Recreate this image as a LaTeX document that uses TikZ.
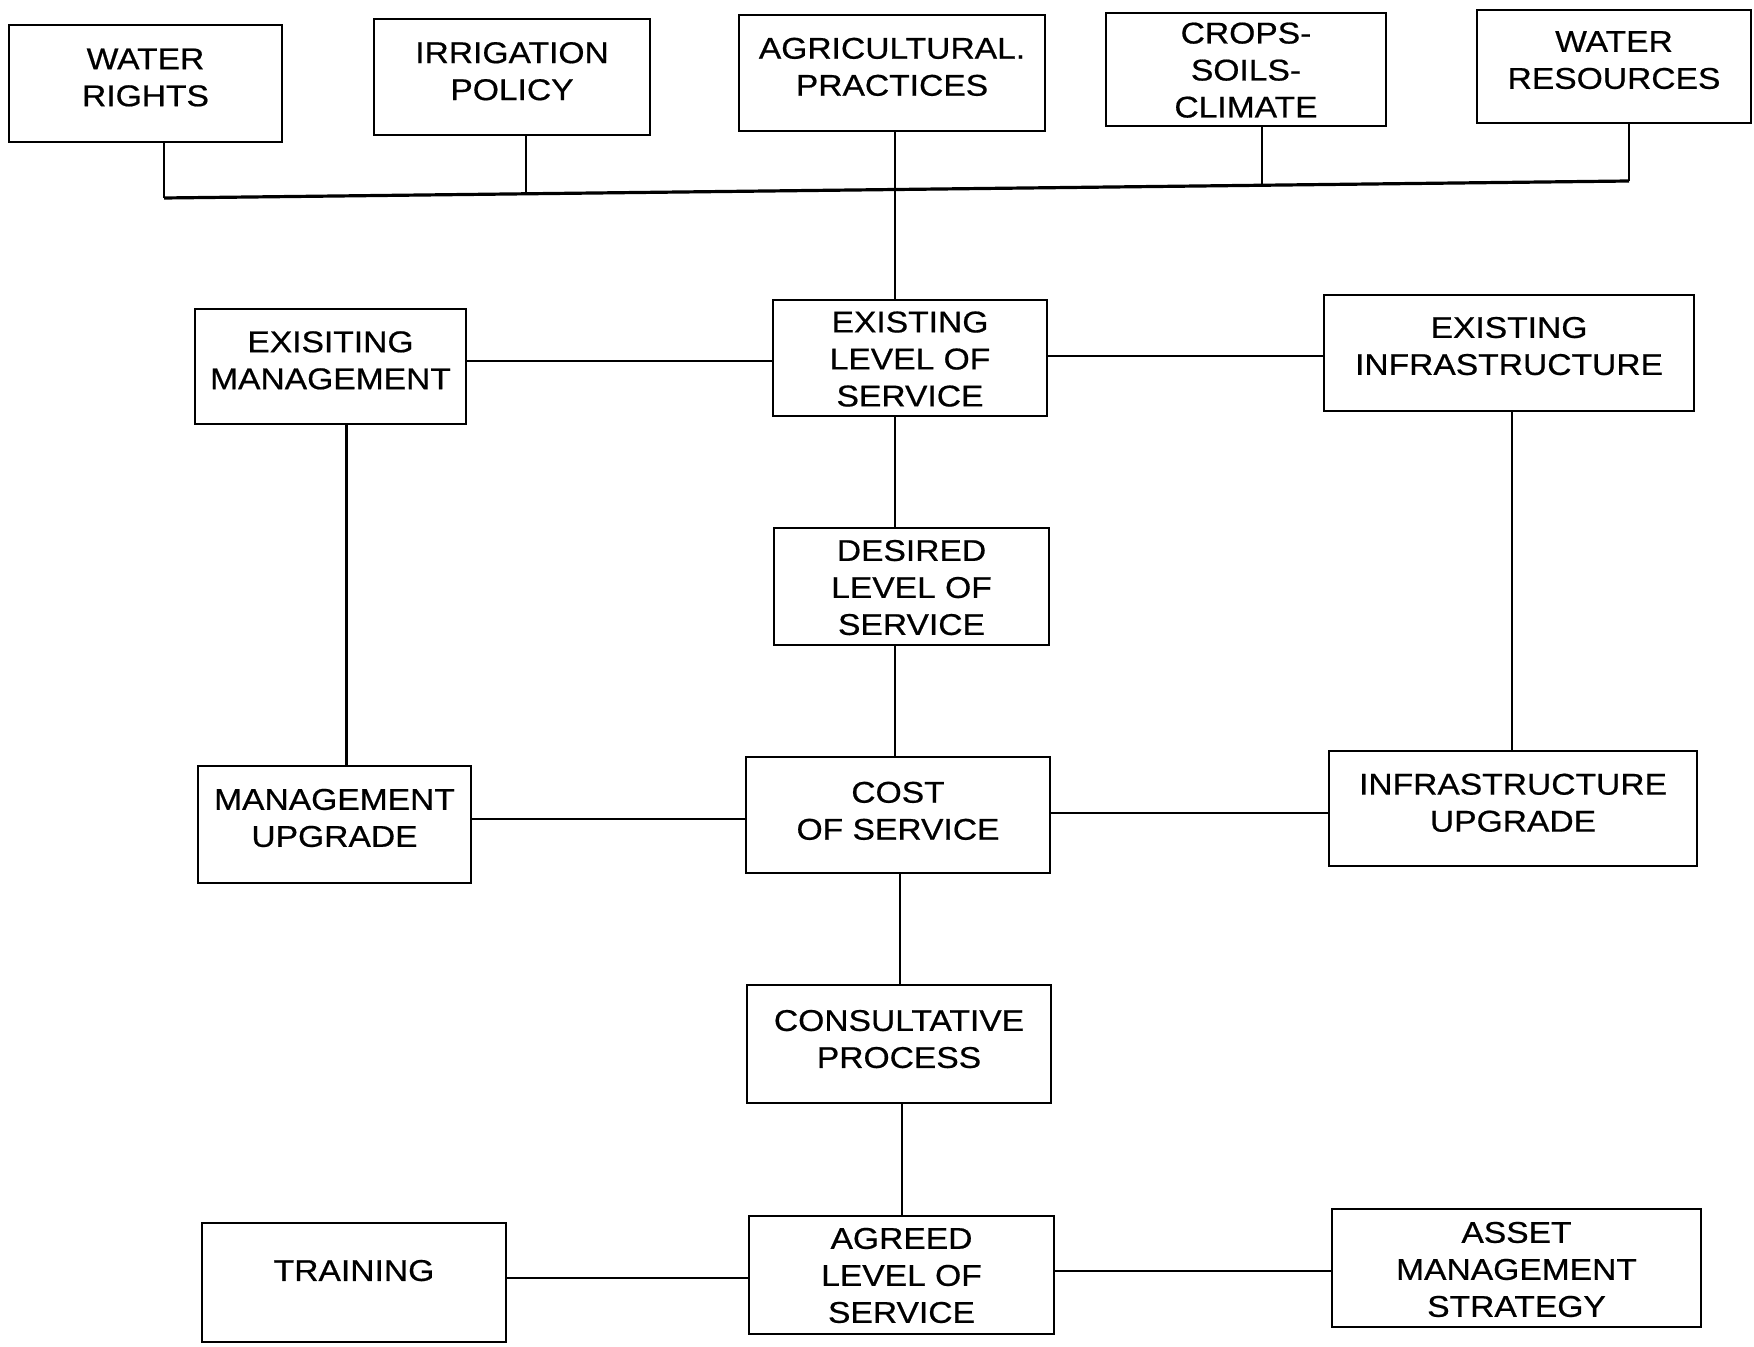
\documentclass[tikz,border=0pt]{standalone}
\usepackage{fontspec}
\setmainfont{Liberation Sans}[FakeStretch=1.12,FakeBold=0.6]
\newcommand\lbl[2][0]{\raisebox{#1pt}[\height][\depth]{\begin{tabular}{@{}c@{}}#2\end{tabular}}}
\tikzset{
  box/.style={draw, line width=1.4pt, inner sep=0pt, font=\fontsize{15}{18.5}\selectfont},
  sz/.style 2 args={minimum width=#1pt, minimum height=#2pt},
  conn/.style={line width=1.1pt},
  bus/.style={line width=1.6pt}
}
\begin{document}
\begin{tikzpicture}[x=0.5pt,y=-0.5pt]
\useasboundingbox (0,0) rectangle (1754,1347);
% top row
\node[box, sz={136.5}{58.5}] (wr) at (145.5,83.5) {\lbl[1.6]{WATER\\RIGHTS}};
\node[box, sz={138}{58}] (ip) at (512,77) {\lbl[1.4]{IRRIGATION\\POLICY}};
\node[box, sz={153}{58}] (ap) at (892,73) {\lbl[1.6]{AGRICULTURAL.\\PRACTICES}};
\node[box, sz={140}{56.5}] (csc) at (1246,69.5) {\lbl[-1.8]{CROPS-\\SOILS-\\CLIMATE}};
\node[box, sz={137}{56.5}] (wres) at (1614,66.5) {\lbl[1.8]{WATER\\RESOURCES}};
% middle
\node[box, sz={135.5}{57.5}] (em) at (330.5,366.5) {\lbl[1.6]{EXISITING\\MANAGEMENT}};
\node[box, sz={137}{58}] (elos) at (910,358) {\lbl[-2]{EXISTING\\LEVEL OF\\SERVICE}};
\node[box, sz={185}{58}] (ei) at (1509,353) {\lbl[2]{EXISTING\\INFRASTRUCTURE}};
\node[box, sz={137.5}{58.5}] (dlos) at (911.5,586.5) {\lbl[-2]{DESIRED\\LEVEL OF\\SERVICE}};
\node[box, sz={136.5}{58.5}] (mu) at (334.5,824.5) {\lbl[1.8]{MANAGEMENT\\UPGRADE}};
\node[box, sz={152}{58}] (cos) at (898,815) {\lbl[0.6]{COST\\OF SERVICE}};
\node[box, sz={184}{57.5}] (iu) at (1513,808.5) {\lbl[1.4]{INFRASTRUCTURE\\UPGRADE}};
\node[box, sz={152}{59}] (cp) at (899,1044) {\lbl[1]{CONSULTATIVE\\PROCESS}};
\node[box, sz={152}{59.5}] (tr) at (354,1282.5) {\lbl[4.5]{TRAINING}};
\node[box, sz={152.5}{59}] (alos) at (901.5,1275) {\lbl[-1.7]{AGREED\\LEVEL OF\\SERVICE}};
\node[box, sz={184.5}{59}] (ams) at (1516.5,1268) {\lbl[-2.2]{ASSET\\MANAGEMENT\\STRATEGY}};
% bus
\coordinate (b1) at (164,198);
\coordinate (b2) at (526,194);
\coordinate (b3) at (895,189.5);
\coordinate (b4) at (1262,185);
\coordinate (b5) at (1629,181);
\draw[bus] (b1) -- (b5);
\draw[conn] (wr.south -| b1) -- (b1);
\draw[conn] (ip.south -| b2) -- (b2);
\draw[conn] (csc.south -| b4) -- (b4);
\draw[conn] (wres.south -| b5) -- (b5);
\draw[conn] (ap.south -| b3) -- (elos.north -| b3);
% connectors
\draw[conn] ([yshift=2.75pt]em.east) -- ([yshift=2.75pt]em.east -| elos.west);
\draw[conn] ([yshift=1pt]elos.east) -- ([yshift=1pt]elos.east -| ei.west);
\draw[conn] ([xshift=8pt]em.south) -- ([xshift=8pt]em.south |- mu.north);
\draw[conn] ([xshift=1.5pt]ei.south) -- ([xshift=1.5pt]ei.south |- iu.north);
\draw[conn] (elos.south -| b3) -- (dlos.north -| b3);
\draw[conn] (dlos.south -| b3) -- (cos.north -| b3);
\draw[conn] ([yshift=2.75pt]mu.east) -- ([yshift=2.75pt]mu.east -| cos.west);
\draw[conn] ([yshift=1pt]cos.east) -- ([yshift=1pt]cos.east -| iu.west);
\draw[conn] ([xshift=1pt]cos.south) -- ([xshift=1pt]cos.south |- cp.north);
\draw[conn] ([xshift=1.5pt]cp.south) -- ([xshift=1.5pt]cp.south |- alos.north);
\draw[conn] ([yshift=2.25pt]tr.east) -- ([yshift=2.25pt]tr.east -| alos.west);
\draw[conn] ([yshift=2pt]alos.east) -- ([yshift=2pt]alos.east -| ams.west);
\end{tikzpicture}
\end{document}
